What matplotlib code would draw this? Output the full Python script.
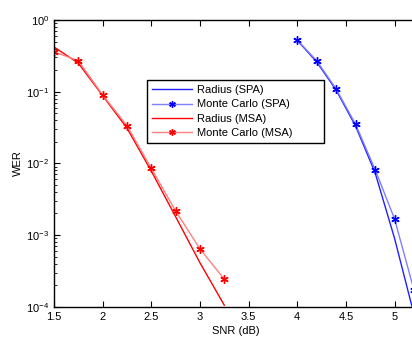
import numpy as np
import matplotlib
matplotlib.use("Agg")
import matplotlib.pyplot as plt

plt.rcParams["font.family"] = ["Liberation Sans", "DejaVu Sans"]

# ---------------------------------------------------------------------------
#  Data
# ---------------------------------------------------------------------------
snr_msa = [1.5, 1.75, 2.0, 2.25, 2.5, 2.75, 3.0, 3.25]
wer_radius_msa = [0.42, 0.25, 0.088, 0.031, 0.0078, 0.0018, 0.00041, 0.000105]
wer_mc_msa = [0.36, 0.27, 0.09, 0.0336, 0.0085, 0.00217, 0.00064, 0.000242]

snr_spa = [4.0, 4.2, 4.4, 4.6, 4.8, 5.0, 5.2]
wer_radius_spa = [0.52, 0.26, 0.105, 0.033, 0.0074, 0.0009, 0.000078]
wer_mc_spa = [0.526, 0.27, 0.109, 0.035, 0.0082, 0.00168, 0.00017]

# ---------------------------------------------------------------------------
#  Plot
# ---------------------------------------------------------------------------
fig = plt.figure(figsize=(4.12, 3.40), dpi=100)
ax = fig.add_axes([54 / 412, 33.3 / 340, (418 - 54) / 412, 286.7 / 340])

star = (6, 2, 0)
ax.semilogy(snr_spa, wer_radius_spa, color="#2020ff", lw=1.0, label="Radius (SPA)")
ax.semilogy(snr_spa, wer_mc_spa, color="#8080ff", lw=1.0, marker=star, ms=6,
            mec="#0000ff", mfc="#0000ff", mew=1.0, label="Monte Carlo (SPA)")
ax.semilogy(snr_msa, wer_radius_msa, color="#ff0000", lw=1.0, label="Radius (MSA)")
ax.semilogy(snr_msa, wer_mc_msa, color="#ff8080", lw=1.0, marker=star, ms=6,
            mec="#ff0000", mfc="#ff0000", mew=1.0, label="Monte Carlo (MSA)")

ax.set_xlim(1.5, 1.5 + (418 - 54) / 97.3)
ax.set_ylim(1e-4, 1)
ax.set_xticks([1.5, 2, 2.5, 3, 3.5, 4, 4.5, 5])
ax.set_xticklabels(["1.5", "2", "2.5", "3", "3.5", "4", "4.5", "5"])
ax.tick_params(which="both", direction="in", top=True, right=True, labelsize=8)
ax.tick_params(which="major", length=4)
ax.tick_params(which="minor", length=2)
for s in ax.spines.values():
    s.set_linewidth(1.0)

ax.set_xlabel("SNR (dB)", fontsize=8, labelpad=3)
ax.set_ylabel("WER", fontsize=8, labelpad=2)

leg = ax.legend(loc="upper left",
                bbox_to_anchor=(147 / 412, 1 - 144 / 340, 177 / 412, 64 / 340),
                bbox_transform=fig.transFigure, mode="expand", fontsize=8,
                frameon=True, fancybox=False, framealpha=1, edgecolor="black",
                handlelength=3.6, borderpad=0.45, labelspacing=0.4,
                handletextpad=0.45, borderaxespad=0, markerscale=0.8)
leg.get_frame().set_linewidth(1.0)

fig.savefig("out.png", dpi=100)
